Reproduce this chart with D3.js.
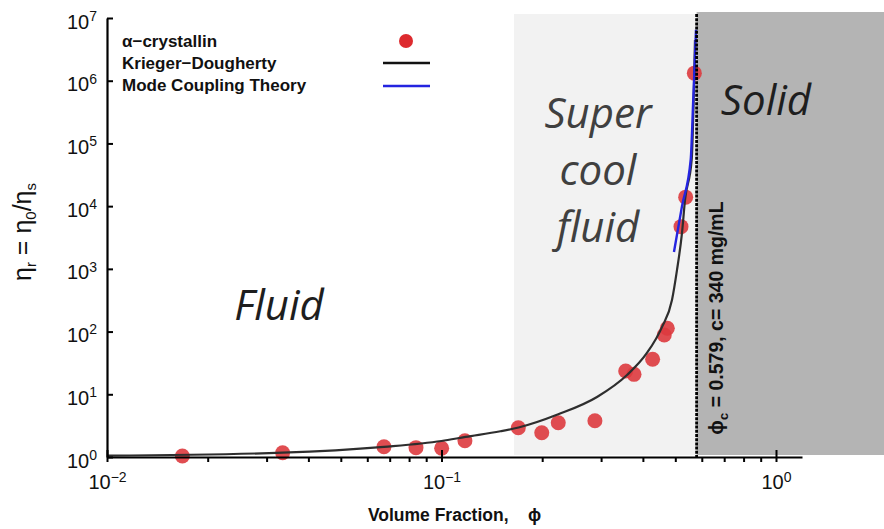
<!DOCTYPE html>
<html>
<head>
<meta charset="utf-8">
<script src="https://cdn.jsdelivr.net/npm/d3@7"></script>
<style>
  body { margin: 0; background: #fff; }
  svg { display: block; font-family: "Liberation Sans", Arial, sans-serif; }
</style>
</head>
<body>
<script>
// measured alpha-crystallin data (volume fraction, relative viscosity)
const dataPhi = [0.0168, 0.0335, 0.0673, 0.0839, 0.1001, 0.1175, 0.1697, 0.1994, 0.2234, 0.2875,
                 0.3554, 0.3763, 0.4277, 0.4634, 0.4732, 0.520, 0.537, 0.570];
const dataEta = [1.04, 1.17, 1.46, 1.41, 1.38, 1.82, 2.93, 2.44, 3.52, 3.79,
                 23.5, 20.8, 36.2, 88, 113, 4710, 13900, 1.32e6];

// Krieger-Dougherty curve
const kdPhi = [0.01, 0.0335, 0.0673, 0.1, 0.118, 0.15, 0.17, 0.2234, 0.2917, 0.3586, 0.4113,
               0.4561, 0.4887, 0.5058, 0.5235, 0.5346, 0.5597, 0.5725];
const kdEta = [1.05, 1.17, 1.45, 1.80, 2.09, 2.57, 2.95, 4.79, 9.06, 20.3, 45.6,
               118, 319, 955, 3715, 12590, 55000, 4.47e6];

// Mode coupling theory curve
const mctPhi = [0.4954, 0.5236, 0.5559, 0.5657, 0.5725, 0.5765];
const mctEta = [1860, 1e4, 55000, 4.9e5, 2.4e6, 6.5e6];

const phiC = 0.579;
const superStart = 0.1647;
const yTicks = [1, 10, 100, 1e3, 1e4, 1e5, 1e6, 1e7];
const xMajor = [0.01, 0.1, 1];
const xMinor = [0.02, 0.03, 0.04, 0.05, 0.06, 0.07, 0.08, 0.09,
                0.2, 0.3, 0.4, 0.5, 0.6, 0.7, 0.8, 0.9];
const legendLabels = ["\u03b1\u2212crystallin", "Krieger\u2212Dougherty", "Mode Coupling Theory"];

const width = 884, height = 529;
const x = d3.scaleLog().domain([0.01, 1.196]).range([107, 802]);
const y = d3.scaleLog().domain([1, 1e7]).range([457, 18]);

const svg = d3.select("body").append("svg")
    .attr("width", width)
    .attr("height", height);

// phase regions
svg.append("rect")
    .attr("x", x(superStart))
    .attr("y", y(1e7) - 4)
    .attr("width", x(phiC) - x(superStart))
    .attr("height", y(1) - 2 - (y(1e7) - 4))
    .attr("fill", "#f2f2f2");

svg.append("rect")
    .attr("x", x(phiC))
    .attr("y", y(1e7) - 6)
    .attr("width", width - x(phiC))
    .attr("height", y(1) - 2 - (y(1e7) - 6))
    .attr("fill", "#b4b4b4");

// region labels
const regionFont = '"Open Sans", sans-serif';
function regionText(lines, cx, baseY, step, color) {
    lines.forEach((t, i) => {
        svg.append("text")
            .attr("x", cx)
            .attr("y", baseY + i * step)
            .attr("text-anchor", "middle")
            .attr("font-family", regionFont)
            .attr("font-style", "italic")
            .attr("font-size", "42px")
            .attr("fill", color)
            .text(t);
    });
}
regionText(["Super", "cool", "fluid"], 598, 128, 57, "#404040");
regionText(["Solid"], 766, 115, 0, "#1e1e1e");
regionText(["Fluid"], 279, 320, 0, "#1e1e1e");

// data points
svg.append("g").selectAll("circle")
    .data(dataPhi.map((p, i) => [p, dataEta[i]]))
    .enter()
    .append("circle")
    .attr("cx", d => x(d[0]))
    .attr("cy", d => y(d[1]))
    .attr("r", 7.5)
    .attr("fill", "#dd3a3e")
    .attr("fill-opacity", 0.9);

const line = d3.line()
    .x(d => x(d[0]))
    .y(d => y(d[1]))
    .curve(d3.curveMonotoneX);

svg.append("path")
    .datum(kdPhi.map((p, i) => [p, kdEta[i]]))
    .attr("fill", "none")
    .attr("stroke", "#2e2e2e")
    .attr("stroke-width", 2.2)
    .attr("d", line);

svg.append("path")
    .datum(mctPhi.map((p, i) => [p, mctEta[i]]))
    .attr("fill", "none")
    .attr("stroke", "#2424e0")
    .attr("stroke-width", 2.4)
    .attr("d", line);

// critical volume fraction line
svg.append("line")
    .attr("x1", x(phiC)).attr("x2", x(phiC))
    .attr("y1", y(1e7) - 4).attr("y2", y(1))
    .attr("stroke", "#000")
    .attr("stroke-width", 2.8)
    .attr("stroke-dasharray", "3,1.2");

svg.append("text")
    .attr("transform", `translate(${x(phiC) + 26},318) rotate(-90)`)
    .attr("text-anchor", "middle")
    .attr("font-size", "19.5px")
    .attr("font-weight", "bold")
    .attr("fill", "#111")
    .call(t => {
        t.append("tspan").text("\u03d5");
        t.append("tspan").attr("font-size", "13px").attr("dy", 5).text("c");
        t.append("tspan").attr("dy", -5).text(" = 0.579, c= 340 mg/mL");
    });

// axes
function powLabel(sel, exp) {
    sel.text(null);
    sel.append("tspan").text("10");
    sel.append("tspan").attr("dy", "-0.55em").attr("font-size", "14px").text(exp);
}

const yAxis = svg.append("g")
    .attr("transform", `translate(${x(0.01)},0)`)
    .call(d3.axisLeft(y).tickValues(yTicks).tickSize(-6).tickSizeOuter(0).tickPadding(10));
yAxis.select(".domain").attr("stroke-width", 2.2);
yAxis.selectAll(".tick line").attr("stroke-width", 2);
yAxis.selectAll(".tick text")
    .attr("font-size", "20px")
    .attr("fill", "#111")
    .attr("dy", "0.5em")
    .each(function(d) { powLabel(d3.select(this), String(Math.round(Math.log10(d)))); });

const xAxis = svg.append("g")
    .attr("transform", `translate(0,${y(1)})`)
    .call(d3.axisBottom(x).tickValues(xMajor.concat(xMinor)).tickSize(5).tickSizeOuter(0).tickPadding(13));
xAxis.select(".domain").attr("stroke-width", 2.2);
xAxis.selectAll(".tick line").attr("stroke-width", 2);
xAxis.selectAll(".tick")
    .filter(d => xMajor.includes(d))
    .select("line").attr("y1", -7).attr("y2", 5);
xAxis.selectAll(".tick text")
    .attr("font-size", "20px")
    .attr("fill", "#111")
    .each(function(d) {
        const t = d3.select(this);
        if (!xMajor.includes(d)) { t.remove(); return; }
        const e = Math.round(Math.log10(d));
        powLabel(t, e < 0 ? "\u2212" + (-e) : String(e));
    });

// axis titles
svg.append("text")
    .attr("x", (x.range()[0] + x.range()[1]) / 2)
    .attr("y", 521)
    .attr("text-anchor", "middle")
    .attr("font-size", "17.5px")
    .attr("font-weight", "bold")
    .attr("fill", "#111")
    .attr("xml:space", "preserve")
    .text("Volume Fraction,    \u03d5");

svg.append("text")
    .attr("transform", "translate(31,232) rotate(-90)")
    .attr("text-anchor", "middle")
    .attr("font-size", "25px")
    .attr("fill", "#111")
    .call(t => {
        t.append("tspan").text("\u03b7");
        t.append("tspan").attr("font-size", "15px").attr("dy", 5).text("r");
        t.append("tspan").attr("dy", -5).text(" = \u03b7");
        t.append("tspan").attr("font-size", "15px").attr("dy", 5).text("0");
        t.append("tspan").attr("dy", -5).text("/\u03b7");
        t.append("tspan").attr("font-size", "15px").attr("dy", 5).text("s");
    });

// legend
const legend = svg.append("g");
legend.selectAll("text")
    .data(legendLabels)
    .enter()
    .append("text")
    .attr("x", 122)
    .attr("y", (d, i) => 47 + i * 22)
    .attr("font-size", "17px")
    .attr("font-weight", "bold")
    .attr("fill", "#111")
    .text(d => d);

legend.append("circle")
    .attr("cx", 406).attr("cy", 41).attr("r", 7)
    .attr("fill", "#dd2a2e");
legend.append("line")
    .attr("x1", 383).attr("x2", 430).attr("y1", 63).attr("y2", 63)
    .attr("stroke", "#111").attr("stroke-width", 2.4);
legend.append("line")
    .attr("x1", 383).attr("x2", 430).attr("y1", 86).attr("y2", 86)
    .attr("stroke", "#2424e0").attr("stroke-width", 2.4);
</script>
</body>
</html>
